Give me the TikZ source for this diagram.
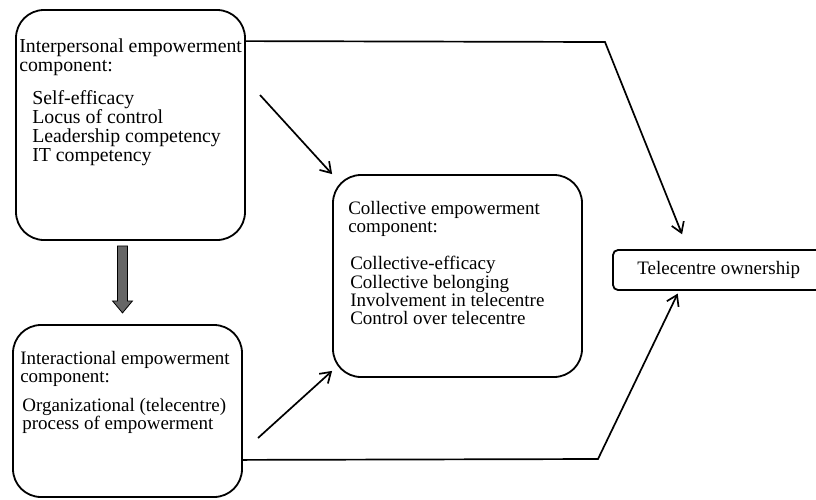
\documentclass[tikz,border=0pt]{standalone}
\usepackage{fontspec}
\setmainfont{Liberation Serif}
\usepackage{tikz}
\usetikzlibrary{positioning,calc,arrows.meta}

\tikzset{
  compbox/.style={draw, rounded corners=28pt, line width=1.8pt, inner sep=0pt},
  ownbox/.style={draw, rounded corners=5pt, line width=1.8pt, inner sep=0pt},
  txt/.style={inner sep=0pt, align=left, font=\fontsize{19}{18.4}\selectfont},
  bigtxt/.style={txt, font=\fontsize{19.8}{19}\selectfont},
  link/.style={-{Straight Barb[length=10pt,width=13pt,line width=1.7pt]}, line width=1.7pt},
  blockarrow/.style={fill=black!60, draw=black, line width=0.8pt}
}

\begin{document}
\begin{tikzpicture}[x=1pt, y=-1pt, node distance=20pt]
    \clip (0,0) rectangle (816,499);

    % Boxes
    \node[compbox, minimum width=229pt, minimum height=230pt] (inter) at (130.5,125) {};
    \node[compbox, minimum width=229pt, minimum height=172pt] (interact) at (127.5,411) {};
    \node[compbox, minimum width=249pt, minimum height=202pt] (coll) at (457.5,276) {};
    \node[ownbox, minimum width=240pt, minimum height=40pt] (own) at (733,270) {};

    % Box texts
    \node[bigtxt, below right=29pt and 4pt of inter.north west] (intertitle) {Interpersonal empowerment\\component:};
    \node[bigtxt, below right=81pt and 17pt of inter.north west] (interlist) {Self-efficacy\\Locus of control\\Leadership competency\\IT competency};
    \node[txt, below right=27pt and 8pt of interact.north west] (interacttitle) {Interactional empowerment\\component:};
    \node[txt, below right=74pt and 10pt of interact.north west] (interactlist) {Organizational (telecentre)\\process of empowerment};
    \node[txt, below right=27pt and 16pt of coll.north west] (colltitle) {Collective empowerment\\component:};
    \node[txt, below right=82pt and 18pt of coll.north west] (colllist) {Collective-efficacy\\Collective belonging\\Involvement in telecentre\\Control over telecentre};
    \node[txt, right=25pt of own.west] (owntext) {Telecentre ownership};

    % Bends and free ends
    \coordinate (topbend) at (605,42);
    \coordinate (botbend) at (598,459);
    \coordinate (d1start) at (260,95);
    \coordinate (d2start) at (258,438);

    % Links
    \draw[link, shorten >=16pt] ([yshift=-32pt]inter.north east) -- (topbend) -- ([xshift=-45pt]own.north);
    \draw[link, shorten >=3pt] ([yshift=38pt]interact.south east) -- (botbend) -- ([xshift=-54pt]own.south);
    \draw[link] (d1start) -- (coll.north west);
    \draw[link] (d2start) -- ([yshift=7pt]coll.south west);

    % Gray block arrow
    \draw[blockarrow] ([xshift=-13pt,yshift=-5pt]inter.south) -- ++(10,0) -- ++(0,55) -- ++(5,0)
        -- ++(-10,12) -- ++(-10,-12) -- ++(5,0) -- cycle;
\end{tikzpicture}
\end{document}
